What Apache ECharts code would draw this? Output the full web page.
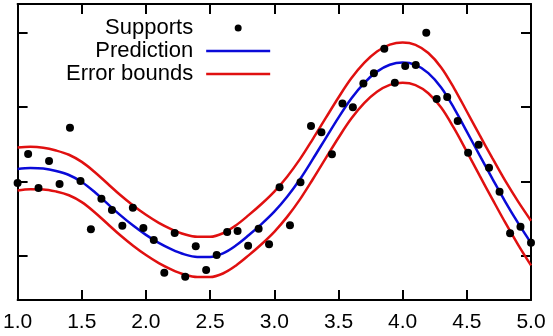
<!DOCTYPE html>
<html>
<head>
<meta charset="utf-8">
<script src="https://cdn.jsdelivr.net/npm/echarts@6/dist/echarts.min.js"></script>
<style>html,body{margin:0;padding:0;background:#fff}#c{width:553px;height:336px}</style>
</head>
<body>
<div id="c"></div>
<script>
// x positions of the support points
var supportX = [1.000,1.082,1.163,1.245,1.327,1.408,1.490,1.571,1.653,1.735,
  1.816,1.898,1.980,2.061,2.143,2.224,2.306,2.388,2.469,2.551,
  2.633,2.714,2.796,2.878,2.959,3.041,3.122,3.204,3.286,3.367,
  3.449,3.531,3.612,3.694,3.776,3.857,3.939,4.020,4.102,4.184,
  4.265,4.347,4.429,4.510,4.592,4.673,4.755,4.837,4.918,5.000];
var supportY = [0.980,1.369,0.913,1.275,0.966,1.722,1.007,0.358,0.769,0.617,
  0.407,0.648,0.376,0.215,-0.224,0.309,-0.278,0.130,-0.188,0.013,
  0.322,0.336,0.138,0.366,0.157,0.922,0.412,0.991,1.745,1.660,
  1.366,2.047,1.996,2.315,2.452,2.783,2.326,2.550,2.564,2.997,
  2.107,2.134,1.812,1.387,1.494,1.185,0.863,0.305,0.393,0.179];
// curve sample positions
var curveX = [1.0,1.1,1.2,1.3,1.4,1.5,1.6,1.7,1.8,1.9,2.0,2.1,2.2,2.3,2.4,2.5,2.6,2.7,2.8,2.9,
  3.0,3.1,3.2,3.3,3.4,3.5,3.6,3.7,3.8,3.9,4.0,4.1,4.2,4.3,4.4,4.5,4.6,4.7,4.8,4.9,5.0];
var prediction = [1.168,1.181,1.174,1.141,1.087,0.993,0.858,0.703,0.548,0.408,0.283,0.175,0.088,0.021,-0.013,-0.013,0.035,0.140,0.278,0.428,
  0.595,0.795,1.030,1.300,1.580,1.858,2.115,2.322,2.475,2.567,2.597,2.565,2.455,2.262,1.985,1.670,1.350,1.035,0.727,0.440,0.174];
var upperBound = [1.458,1.466,1.454,1.416,1.359,1.263,1.128,0.973,0.818,0.678,0.553,0.445,0.358,0.291,0.257,0.257,0.305,0.410,0.548,0.698,
  0.865,1.065,1.300,1.570,1.850,2.128,2.385,2.592,2.745,2.837,2.867,2.835,2.725,2.532,2.255,1.940,1.622,1.310,1.007,0.730,0.474];
var lowerBound = [0.878,0.896,0.894,0.866,0.815,0.723,0.588,0.433,0.278,0.138,0.013,-0.095,-0.182,-0.249,-0.283,-0.283,-0.235,-0.130,0.008,0.158,
  0.325,0.525,0.760,1.030,1.310,1.588,1.845,2.052,2.205,2.297,2.327,2.295,2.185,1.992,1.715,1.400,1.078,0.760,0.447,0.150,-0.126];
var xTicks = [1.0,1.5,2.0,2.5,3.0,3.5,4.0,4.5,5.0];
var yTicks = [0,1,2,3];
var yMin = -0.591, yMax = 3.383;

function pairs(xs, ys){ return xs.map(function(x,i){ return [x, ys[i]]; }); }

var BLUE = '#0a0ad8', RED = '#e01010';
var FONT = '"Liberation Sans", Arial, sans-serif';
var LINE_ICON = 'path://M0,0H64V2.5H0Z';

var chart = echarts.init(document.getElementById('c'), null, {renderer:'canvas'});
var axisLine = {show:true, onZero:false, lineStyle:{color:'#000', width:2}};
var tick = {show:true, inside:true, length:10, lineStyle:{color:'#000', width:2}};
chart.setOption({
  animation:false,
  backgroundColor:'#fff',
  grid:{left:14, right:22, top:4, bottom:36, containLabel:false},
  legend:{
    orient:'vertical', align:'right', left:66, top:17, padding:0, itemGap:1,
    itemWidth:64, itemHeight:7,
    textStyle:{fontFamily:FONT, fontSize:22, color:'#000', padding:[0,8,0,0]},
    data:[
      {name:'Supports', icon:'circle'},
      {name:'Prediction', icon:LINE_ICON},
      {name:'Error bounds', icon:LINE_ICON}
    ]
  },
  xAxis:[
    {type:'value', min:1, max:5, interval:0.5, position:'bottom',
     axisLine:axisLine, axisTick:tick, splitLine:{show:false},
     axisLabel:{show:true, margin:12, fontFamily:FONT, fontSize:21, color:'#000',
       formatter:function(v){ return v.toFixed(1); }}},
    {type:'value', min:1, max:5, interval:0.5, position:'top',
     axisLine:axisLine, axisTick:tick, splitLine:{show:false}, axisLabel:{show:false}}
  ],
  yAxis:[
    {type:'value', min:yMin, max:yMax, position:'left',
     axisLine:axisLine, axisTick:Object.assign({customValues:yTicks}, tick),
     splitLine:{show:false}, axisLabel:{show:false}},
    {type:'value', min:yMin, max:yMax, position:'right',
     axisLine:axisLine, axisTick:Object.assign({customValues:yTicks}, tick),
     splitLine:{show:false}, axisLabel:{show:false}}
  ],
  series:[
    {name:'Supports', type:'scatter', data:pairs(supportX, supportY), symbolSize:8,
     itemStyle:{color:'#000', opacity:1}, clip:false, z:5},
    {name:'Prediction', type:'line', data:pairs(curveX, prediction), smooth:0.35, symbol:'none',
     lineStyle:{color:BLUE, width:2.5}, itemStyle:{color:BLUE}, z:3},
    {name:'Error bounds', type:'line', data:pairs(curveX, upperBound), smooth:0.35, symbol:'none',
     lineStyle:{color:RED, width:2.5}, itemStyle:{color:RED}, z:3},
    {name:'Error bounds', type:'line', data:pairs(curveX, lowerBound), smooth:0.35, symbol:'none',
     lineStyle:{color:RED, width:2.5}, itemStyle:{color:RED}, z:3}
  ]
});
</script>
</body>
</html>
